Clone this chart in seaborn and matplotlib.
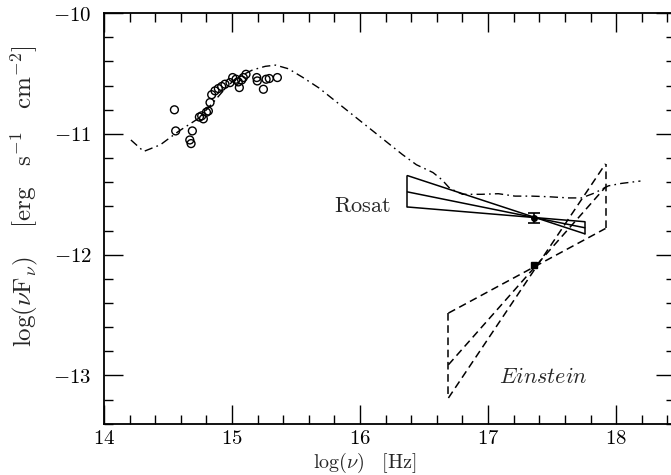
import matplotlib
matplotlib.use("Agg")
import matplotlib.pyplot as plt
import seaborn as sns
import numpy as np
import pandas as pd
from matplotlib.ticker import MultipleLocator, FuncFormatter

# ---- data ----
opt_x = [14.55, 14.56, 14.69, 14.67, 14.68, 14.745, 14.763, 14.776, 14.80, 14.815,
         14.828, 14.841, 14.867, 14.893, 14.919, 14.945, 14.984, 15.005, 15.031, 15.049,
         15.057, 15.075, 15.088, 15.109, 15.193, 15.197, 15.245, 15.266, 15.291, 15.354]
opt_y = [-10.80, -10.975, -10.975, -11.05, -11.08, -10.86, -10.85, -10.875, -10.82, -10.81,
         -10.74, -10.675, -10.643, -10.624, -10.607, -10.588, -10.575, -10.533, -10.547, -10.569,
         -10.616, -10.553, -10.533, -10.506, -10.533, -10.561, -10.63, -10.547, -10.541, -10.533]

model_x = [14.21, 14.31, 14.44, 14.58, 14.74, 14.86, 14.95, 15.03, 15.16, 15.26,
           15.34, 15.44, 15.55, 15.68, 15.81, 15.94, 16.07, 16.20, 16.33, 16.44,
           16.57, 16.64, 16.70, 16.80, 16.95, 17.08, 17.21, 17.34, 17.47, 17.63,
           17.73, 17.83, 17.94, 18.04, 18.19]
model_y = [-11.05, -11.145, -11.09, -10.98, -10.87, -10.73, -10.62, -10.54, -10.47, -10.44,
           -10.43, -10.46, -10.53, -10.62, -10.73, -10.84, -10.95, -11.06, -11.17, -11.255,
           -11.32, -11.38, -11.45, -11.50, -11.50, -11.495, -11.515, -11.515, -11.52, -11.53,
           -11.53, -11.49, -11.43, -11.41, -11.39]

rosat_x = [16.37, 17.755]
rosat_left_y = [-11.345, -11.48, -11.605]
rosat_right_y = [-11.827, -11.777, -11.727]
rosat_pivot = (17.36, -11.695)
rosat_err = 0.04

einst_x = [16.69, 17.917]
einst_left_y = [-12.484, -12.912, -13.187]
einst_right_y = [-11.783, -11.44, -11.247]
einst_pivot = (17.36, -12.086)
einst_err = 0.02

xlim = (14.0, 18.46)
ylim = (-13.4, -10.0)

# ---- style ----
sns.set_style("ticks")
plt.rcParams['font.family'] = ['DejaVu Serif', 'DejaVu Sans']
plt.rcParams['mathtext.fontset'] = 'cm'

fig = plt.figure(figsize=(6.71, 4.75), dpi=100)
ax = fig.add_axes([0.155, 0.108, 0.851, 0.8642])

opt = pd.DataFrame({"x": opt_x, "y": opt_y})
mod = pd.DataFrame({"x": model_x, "y": model_y})

sns.lineplot(data=mod, x="x", y="y", sort=False, ax=ax, color="black",
             lw=1.0, linestyle=(0, (6, 3, 1.2, 3)))
sns.scatterplot(data=opt, x="x", y="y", ax=ax, marker="o", s=32,
                facecolor="none", edgecolor="black", linewidth=1.0)

# Rosat bow tie (solid)
for i in range(3):
    ax.plot(rosat_x, [rosat_left_y[i], rosat_right_y[i]], color="black", lw=1.1)
ax.plot([rosat_x[0]] * 2, [rosat_left_y[0], rosat_left_y[2]], color="black", lw=1.1)
ax.plot([rosat_x[1]] * 2, [rosat_right_y[0], rosat_right_y[2]], color="black", lw=1.1)
ax.errorbar([rosat_pivot[0]], [rosat_pivot[1]], yerr=rosat_err, fmt="o", ms=4,
            color="black", capsize=4, elinewidth=1.2, capthick=1.2)

# Einstein bow tie (dashed)
dash = (0, (5, 3))
for i in range(3):
    ax.plot(einst_x, [einst_left_y[i], einst_right_y[i]], color="black", lw=1.1, linestyle=dash)
ax.plot([einst_x[0]] * 2, [einst_left_y[0], einst_left_y[2]], color="black", lw=1.1, linestyle=dash)
ax.plot([einst_x[1]] * 2, [einst_right_y[0], einst_right_y[2]], color="black", lw=1.1, linestyle=dash)
ax.errorbar([einst_pivot[0]], [einst_pivot[1]], yerr=einst_err, fmt="s", ms=5,
            color="black", capsize=2, elinewidth=1.2)

ax.text(16.02, -11.6, r"$\mathrm{Rosat}$", fontsize=16, ha="center", va="center")
ax.text(17.43, -13.01, r"$Einstein$", fontsize=16, ha="center", va="center")

ax.set_xlim(*xlim)
ax.set_ylim(*ylim)
ax.xaxis.set_major_locator(MultipleLocator(1))
ax.xaxis.set_minor_locator(MultipleLocator(0.2))
ax.yaxis.set_major_locator(MultipleLocator(1))
ax.yaxis.set_minor_locator(MultipleLocator(0.2))
fmt = FuncFormatter(lambda v, p: r"$%d$" % round(v))
ax.xaxis.set_major_formatter(fmt)
ax.yaxis.set_major_formatter(fmt)
ax.tick_params(which="both", direction="in", top=True, right=True, width=1.0,
               colors="black", labelsize=15)
ax.tick_params(which="major", length=13.5)
ax.tick_params(axis="x", which="major", pad=3.5)
ax.tick_params(axis="y", which="major", pad=9)
ax.tick_params(which="minor", length=6.5)
for s in ax.spines.values():
    s.set_linewidth(1.3)
    s.set_color("black")

ax.set_xlabel(r"$\log(\nu)\quad[\mathrm{Hz}]$", fontsize=14.5)
ax.set_ylabel(r"$\log(\nu \mathrm{F}_\nu)\quad\;[\mathrm{erg\quad s^{-1}\quad cm^{-2}}]$",
              fontsize=18)
ax.xaxis.set_label_coords(0.457, -0.066)
ax.yaxis.set_label_coords(-0.112, 0.555)

fig.savefig("out.png", dpi=100)
